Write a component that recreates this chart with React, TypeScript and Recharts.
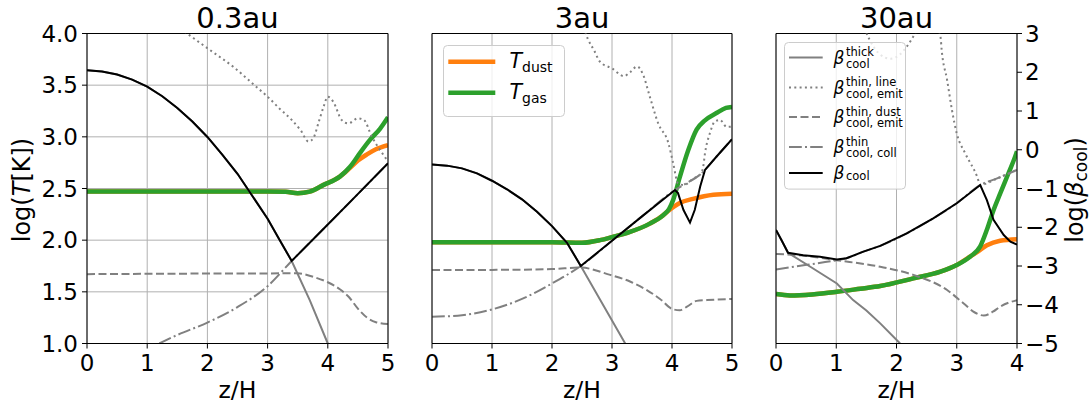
import React from 'react'
import { ComposedChart, Line, XAxis, YAxis, CartesianGrid, ReferenceLine, Legend } from 'recharts'

// ---- 0.3au ----
const au03GasZ = [0, 1, 2, 3, 3.3, 3.5, 3.7, 3.93, 4.2, 4.37, 4.53, 4.7, 4.87, 5.0]
const au03Gas = [2.47, 2.47, 2.47, 2.47, 2.468, 2.455, 2.47, 2.535, 2.615, 2.71, 2.84, 2.97, 3.08, 3.19]
const au03DustZ = [0, 1, 2, 3, 3.3, 3.5, 3.7, 3.93, 4.2, 4.37, 4.5, 4.65, 4.8, 5.0]
const au03Dust = [2.47, 2.47, 2.47, 2.47, 2.468, 2.455, 2.47, 2.535, 2.615, 2.7, 2.77, 2.83, 2.88, 2.92]
const au03ThickZ = [0, 0.25, 0.5, 0.75, 1, 1.25, 1.5, 1.75, 2, 2.25, 2.5, 2.75, 3, 3.2, 3.4, 3.7, 4.0]
const au03Thick = [2.05, 2.02, 1.94, 1.81, 1.63, 1.38, 1.08, 0.73, 0.33, -0.13, -0.62, -1.2, -1.78, -2.33, -2.87, -3.88, -5.0]
const au03LineZ = [1.62, 2.0, 2.43, 2.8, 3.0, 3.2, 3.4, 3.55, 3.68, 3.76, 3.85, 3.93, 4.0, 4.09, 4.23, 4.34, 4.5, 4.6, 4.73, 4.87, 5.0]
const au03Line = [3.05, 2.62, 2.14, 1.64, 1.37, 1.06, 0.77, 0.5, 0.21, 0.3, 0.72, 1.11, 1.37, 1.24, 0.77, 0.68, 0.81, 0.77, 0.34, -0.01, -0.3]
const au03EmitZ = [0, 3.5, 3.8, 4.0, 4.2, 4.35, 4.5, 4.65, 4.8, 5.0]
const au03Emit = [-3.21, -3.19, -3.3, -3.42, -3.6, -3.8, -4.1, -4.33, -4.45, -4.5]
const au03CollZ = [1.2, 1.5, 2.0, 2.5, 3.0, 3.4, 4.0, 4.4, 5.0]
const au03Coll = [-5.0, -4.78, -4.46, -4.06, -3.52, -2.87, -1.93, -1.3, -0.35]
const au03CoolZ = [0, 0.25, 0.5, 0.75, 1, 1.25, 1.5, 1.75, 2, 2.25, 2.5, 2.75, 3, 3.2, 3.4, 4.0, 4.4, 5.0]
const au03Cool = [2.05, 2.02, 1.94, 1.81, 1.63, 1.38, 1.08, 0.73, 0.33, -0.13, -0.62, -1.2, -1.78, -2.33, -2.87, -1.93, -1.3, -0.35]

// ---- 3au ----
const au3GasZ = [0, 1, 2, 2.5, 2.8, 3.0, 3.3, 3.63, 3.85, 3.95, 4.02, 4.13, 4.27, 4.41, 4.55, 4.74, 4.9, 5.0]
const au3Gas = [1.98, 1.98, 1.98, 1.975, 2.0, 2.03, 2.08, 2.16, 2.24, 2.3, 2.39, 2.61, 2.87, 3.07, 3.16, 3.23, 3.28, 3.29]
const au3DustZ = [0, 1, 2, 2.5, 2.8, 3.0, 3.3, 3.63, 3.85, 3.93, 4.13, 4.35, 4.69, 5.0]
const au3Dust = [1.98, 1.98, 1.98, 1.975, 2.0, 2.03, 2.08, 2.16, 2.24, 2.28, 2.36, 2.4, 2.44, 2.45]
const au3ThickZ = [0, 0.25, 0.5, 0.75, 1, 1.25, 1.5, 1.75, 2, 2.25, 2.48, 3.22]
const au3Thick = [-0.38, -0.41, -0.48, -0.61, -0.8, -1.02, -1.28, -1.6, -1.97, -2.4, -3.0, -5.0]
const au3LineZ = [2.5, 2.6, 2.7, 2.8, 3.0, 3.2, 3.3, 3.42, 3.52, 3.63, 3.77, 3.94, 4.02, 4.1, 4.2, 4.35, 4.48, 4.52, 4.55, 4.63, 4.71, 4.8, 4.91, 5.0]
const au3Line = [3.3, 2.85, 2.57, 2.27, 2.1, 1.9, 2.0, 2.15, 1.93, 1.37, 0.68, 0.17, -0.35, -0.87, -0.91, -0.75, -0.62, -0.44, -0.09, 0.42, 0.72, 0.77, 0.59, 0.6]
const au3EmitZ = [0, 1, 2, 2.47, 2.97, 3.3, 3.58, 3.8, 4.02, 4.13, 4.25, 4.41, 4.58, 5.0]
const au3Emit = [-3.1, -3.1, -3.08, -3.04, -3.23, -3.4, -3.62, -3.85, -4.12, -4.14, -4.05, -3.9, -3.88, -3.85]
const au3CollZ = [0, 0.5, 1, 1.5, 2, 2.48, 3.0, 3.5, 4.05, 4.19, 4.49, 4.55, 4.74, 5.0]
const au3Coll = [-4.31, -4.27, -4.12, -3.85, -3.45, -3.0, -2.35, -1.72, -1.04, -0.91, -0.61, -0.52, -0.18, 0.27]
const au3CoolZ = [0, 0.25, 0.5, 0.75, 1, 1.25, 1.5, 1.75, 2, 2.25, 2.48, 3.0, 3.5, 4.05, 4.1, 4.19, 4.3, 4.38, 4.47, 4.55, 4.74, 5.0]
const au3Cool = [-0.38, -0.41, -0.48, -0.61, -0.8, -1.02, -1.28, -1.6, -1.97, -2.4, -3.0, -2.35, -1.72, -1.04, -1.12, -1.55, -1.88, -1.55, -0.95, -0.52, -0.18, 0.27]

// ---- 30au ----
const au30GasZ = [0, 0.23, 0.6, 1.01, 1.4, 1.73, 2.28, 2.73, 3.0, 3.22, 3.39, 3.5, 3.61, 3.72, 3.86, 3.97, 4.0]
const au30Gas = [1.479, 1.465, 1.475, 1.5, 1.53, 1.556, 1.63, 1.695, 1.76, 1.84, 1.94, 2.1, 2.29, 2.45, 2.65, 2.81, 2.86]
const au30DustZ = [0, 0.23, 0.6, 1.01, 1.4, 1.73, 2.28, 2.73, 3.0, 3.22, 3.35, 3.5, 3.72, 4.0]
const au30Dust = [1.479, 1.465, 1.475, 1.5, 1.53, 1.556, 1.63, 1.695, 1.76, 1.84, 1.89, 1.95, 1.995, 2.01]
const au30ThickZ = [0, 0.09, 0.2, 0.57, 1.01, 1.28, 1.5, 1.73, 2.06]
const au30Thick = [-2.07, -2.33, -2.66, -3.02, -3.45, -3.88, -4.15, -4.48, -5.0]
const au30LineZ = [1.4, 1.55, 1.7, 1.9, 2.05, 2.17, 2.3, 2.45, 2.6, 2.73, 2.75, 2.84, 2.92, 3.0, 3.14, 3.34, 3.39, 3.67, 4.0]
const au30Line = [3.4, 2.85, 2.5, 2.35, 2.45, 2.66, 2.98, 3.4, 3.4, 2.92, 2.57, 1.8, 1.03, 0.42, -0.09, -0.7, -0.91, -0.74, -0.52]
const au30EmitZ = [0, 0.5, 1.0, 1.73, 2.28, 2.84, 3.11, 3.3, 3.45, 3.6, 3.72, 4.0]
const au30Emit = [-2.69, -2.74, -2.85, -3.02, -3.23, -3.62, -3.96, -4.2, -4.28, -4.18, -4.05, -3.88]
const au30CollZ = [0, 0.51, 1.01, 1.17, 1.45, 1.73, 2.17, 2.61, 3.0, 3.39, 3.67, 4.0]
const au30Coll = [-3.09, -2.97, -2.85, -2.8, -2.63, -2.48, -2.16, -1.77, -1.38, -0.91, -0.74, -0.52]
const au30CoolZ = [0, 0.09, 0.2, 0.45, 0.73, 1.01, 1.17, 1.45, 1.73, 2.17, 2.61, 3.0, 3.39, 3.5, 3.61, 3.78, 3.89, 4.0]
const au30Cool = [-2.07, -2.33, -2.66, -2.72, -2.76, -2.83, -2.8, -2.63, -2.48, -2.16, -1.77, -1.38, -0.91, -1.3, -1.81, -2.2, -2.37, -2.45]

// ticks
const xTicks5 = [0, 1, 2, 3, 4, 5]
const xTicks4 = [0, 1, 2, 3, 4]
const tTicks = [1, 1.5, 2, 2.5, 3, 3.5, 4]
const bTicks = [-5, -4, -3, -2, -1, 0, 1, 2, 3]

const ORANGE = '#ff7f0e'
const GREEN = '#2ca02c'
const GRAY = '#808080'
const FONT = '"DejaVu Sans", sans-serif'

const DOT = '2 3.3'
const DASH = '8 3.5'
const DASHDOT = '12.8 3.2 2 3.2'

type Pt = { z: number; v: number }
const pts = (z: number[], v: number[]): Pt[] => z.map((x, i) => ({ z: x, v: v[i] }))

interface Series {
  name: string
  data: Pt[]
  axis: 'T' | 'b'
  stroke: string
  width: number
  dash?: string
  curve: 'linear' | 'monotone'
}

function makeSeries(d: { gas: Pt[]; dust: Pt[]; thick: Pt[]; line: Pt[]; emit: Pt[]; coll: Pt[]; cool: Pt[] }): Series[] {
  return [
    { name: 'dust', data: d.dust, axis: 'T', stroke: ORANGE, width: 4.5, curve: 'monotone' },
    { name: 'gas', data: d.gas, axis: 'T', stroke: GREEN, width: 4.5, curve: 'monotone' },
    { name: 'thick', data: d.thick, axis: 'b', stroke: GRAY, width: 2, curve: 'linear' },
    { name: 'line', data: d.line, axis: 'b', stroke: GRAY, width: 2, dash: DOT, curve: 'monotone' },
    { name: 'emit', data: d.emit, axis: 'b', stroke: GRAY, width: 2, dash: DASH, curve: 'monotone' },
    { name: 'coll', data: d.coll, axis: 'b', stroke: GRAY, width: 2, dash: DASHDOT, curve: 'monotone' },
    { name: 'cool', data: d.cool, axis: 'b', stroke: '#000', width: 2, curve: 'linear' },
  ]
}

const series03 = makeSeries({
  gas: pts(au03GasZ, au03Gas), dust: pts(au03DustZ, au03Dust), thick: pts(au03ThickZ, au03Thick),
  line: pts(au03LineZ, au03Line), emit: pts(au03EmitZ, au03Emit), coll: pts(au03CollZ, au03Coll), cool: pts(au03CoolZ, au03Cool),
})
const series3 = makeSeries({
  gas: pts(au3GasZ, au3Gas), dust: pts(au3DustZ, au3Dust), thick: pts(au3ThickZ, au3Thick),
  line: pts(au3LineZ, au3Line), emit: pts(au3EmitZ, au3Emit), coll: pts(au3CollZ, au3Coll), cool: pts(au3CoolZ, au3Cool),
})
const series30 = makeSeries({
  gas: pts(au30GasZ, au30Gas), dust: pts(au30DustZ, au30Dust), thick: pts(au30ThickZ, au30Thick),
  line: pts(au30LineZ, au30Line), emit: pts(au30EmitZ, au30Emit), coll: pts(au30CollZ, au30Coll), cool: pts(au30CoolZ, au30Cool),
})

const fmtBeta = (v: number) => (v < 0 ? `\u2212${-v}` : `${v}`)

// legend with T_dust / T_gas
function TempLegend() {
  const rows = [
    { color: ORANGE, sub: 'dust', y: 16.7 },
    { color: GREEN, sub: 'gas', y: 47.7 },
  ]
  return (
    <svg width={122} height={72} style={{ display: 'block', fontFamily: FONT }}>
      <rect x={0.5} y={0.5} width={121} height={71} rx={4} fill="#fff" fillOpacity={0.8} stroke="#cccccc" />
      {rows.map((r) => (
        <g key={r.sub}>
          <line x1={5.3} x2={52.3} y1={r.y} y2={r.y} stroke={r.color} strokeWidth={4.5} />
          <text x={66.5} y={r.y + 6.6} fill="#000">
            <tspan fontSize={20.5} fontStyle="italic">T</tspan>
            <tspan fontSize={14} dy={3.4}>{r.sub}</tspan>
          </text>
        </g>
      ))}
    </svg>
  )
}

// legend with the beta_cool terms (stacked super/subscripts)
function BetaLegend() {
  const rows = [
    { sup: 'thick', sub: 'cool', y: 15.6, stroke: GRAY, dash: undefined as string | undefined },
    { sup: 'thin, line', sub: 'cool, emit', y: 45.6, stroke: GRAY, dash: DOT },
    { sup: 'thin, dust', sub: 'cool, emit', y: 75, stroke: GRAY, dash: DASH },
    { sup: 'thin', sub: 'cool, coll', y: 105, stroke: GRAY, dash: DASHDOT },
    { sup: '', sub: 'cool', y: 131, stroke: '#000', dash: undefined },
  ]
  return (
    <svg width={122} height={148} style={{ display: 'block', fontFamily: FONT }}>
      <rect x={0.5} y={0.5} width={121} height={146.6} rx={4} fill="#fff" fillOpacity={0.8} stroke="#cccccc" />
      {rows.map((r, i) => (
        <g key={i}>
          <line x1={5} x2={38.7} y1={r.y} y2={r.y} stroke={r.stroke} strokeWidth={2} strokeDasharray={r.dash} />
          <text fill="#000">
            <tspan x={49.5} y={r.y + 6} fontSize={17} fontStyle="italic">β</tspan>
            {r.sup && (
              <tspan x={62} y={r.y - 1.5} fontSize={11.5}>{r.sup}</tspan>
            )}
            <tspan x={62} y={r.sup ? r.y + 10 : r.y + 7} fontSize={11.5}>{r.sub}</tspan>
          </text>
        </g>
      ))}
    </svg>
  )
}

interface PanelProps {
  left: number
  plotW: number
  lw: number
  rw: number
  xMax: number
  xTicks: number[]
  title: string
  leftLabels: boolean
  rightLabels: boolean
  series: Series[]
  legend?: React.ReactNode
}

function Panel({ left, plotW, lw, rw, xMax, xTicks, title, leftLabels, rightLabels, series, legend }: PanelProps) {
  const tickStyle = { fill: '#000', fontSize: 23 }
  return (
    <div style={{ position: 'absolute', left, top: 0 }}>
      <ComposedChart width={lw + plotW + rw} height={409} margin={{ top: 33.5, right: 0, bottom: 0, left: 0 }}>
        <CartesianGrid xAxisId="x" yAxisId="T" stroke="#b0b0b0" strokeWidth={1} />
        <XAxis
          xAxisId="x"
          dataKey="z"
          type="number"
          domain={[0, xMax]}
          ticks={xTicks}
          interval={0}
          allowDataOverflow
          height={65.5}
          tickSize={5}
          tickMargin={6}
          stroke="#000"
          tick={tickStyle}
          label={{ value: 'z/H', position: 'insideBottom', offset: 11, fill: '#000', fontSize: 23.5 }}
        />
        <YAxis
          yAxisId="T"
          type="number"
          domain={[1, 4]}
          ticks={tTicks}
          interval={0}
          allowDataOverflow
          width={lw}
          tickSize={5}
          tickMargin={4}
          stroke="#000"
          tick={leftLabels ? tickStyle : false}
          tickFormatter={(v: number) => v.toFixed(1)}
        />
        <YAxis
          yAxisId="b"
          orientation="right"
          type="number"
          domain={[-5, 3]}
          ticks={bTicks}
          interval={0}
          allowDataOverflow
          width={rw}
          tickSize={5}
          tickMargin={3}
          stroke="#000"
          tick={rightLabels ? tickStyle : false}
          tickFormatter={fmtBeta}
        />
        <ReferenceLine
          xAxisId="x"
          yAxisId="T"
          y={4}
          stroke="#000"
          strokeWidth={1.1}
          label={{ value: title, position: 'top', offset: 6, fill: '#000', fontSize: 29 }}
        />
        {series.map((s) => (
          <Line
            key={s.name}
            data={s.data}
            dataKey="v"
            xAxisId="x"
            yAxisId={s.axis}
            type={s.curve}
            stroke={s.stroke}
            strokeWidth={s.width}
            strokeDasharray={s.dash}
            dot={false}
            activeDot={false}
            isAnimationActive={false}
          />
        ))}
        {legend}
      </ComposedChart>
    </div>
  )
}

export default function App() {
  return (
    <div style={{ position: 'absolute', left: 0, top: 0, width: 1090, height: 409, background: '#fff', fontFamily: FONT, overflow: 'hidden' }}>
      <Panel left={0} plotW={301} lw={87} rw={8} xMax={5} xTicks={xTicks5} title="0.3au" leftLabels rightLabels={false} series={series03} />
      <Panel
        left={424}
        plotW={300}
        lw={8}
        rw={8}
        xMax={5}
        xTicks={xTicks5}
        title="3au"
        leftLabels={false}
        rightLabels={false}
        series={series3}
        legend={
          <Legend
            layout="vertical"
            align="center"
            verticalAlign="middle"
            content={<TempLegend />}
            wrapperStyle={{ left: 18.7, top: 45, width: 122, height: 72 }}
          />
        }
      />
      <Panel
        left={768}
        plotW={241}
        lw={8}
        rw={70}
        xMax={4}
        xTicks={xTicks4}
        title="30au"
        leftLabels={false}
        rightLabels
        series={series30}
        legend={
          <Legend
            layout="vertical"
            align="center"
            verticalAlign="middle"
            content={<BetaLegend />}
            wrapperStyle={{ left: 16, top: 41.7, width: 122, height: 148 }}
          />
        }
      />
      <div
        style={{
          position: 'absolute', left: 22, top: 190, transform: 'translate(-50%, -50%) rotate(-90deg)',
          fontSize: 24, whiteSpace: 'nowrap', lineHeight: 1, color: '#000',
        }}
      >
        log(<span style={{ fontStyle: 'italic' }}>T</span>[K])
      </div>
      <div
        style={{
          position: 'absolute', left: 1075, top: 190, transform: 'translate(-50%, -50%) rotate(-90deg)',
          fontSize: 24, whiteSpace: 'nowrap', lineHeight: 1, color: '#000',
        }}
      >
        log(<span style={{ fontStyle: 'italic' }}>β</span>
        <span style={{ fontSize: 17, position: 'relative', top: 4 }}>cool</span>)
      </div>
    </div>
  )
}
